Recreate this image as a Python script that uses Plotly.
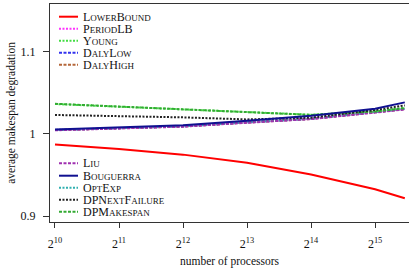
import math
import plotly.graph_objects as go

processors = [1024, 2048, 4096, 8192, 16384, 32768, 45208]

lower_bound = [0.9871, 0.9815, 0.9747, 0.9647, 0.9506, 0.9325, 0.9217]
period_lb = [1.0046, 1.0066, 1.0090, 1.0138, 1.0182, 1.0262, 1.0300]
young = [1.0362, 1.0330, 1.0295, 1.0258, 1.0232, 1.0275, 1.0315]
daly_low = [1.0047, 1.0067, 1.0091, 1.0140, 1.0184, 1.0265, 1.0304]
daly_high = [1.0045, 1.0065, 1.0089, 1.0137, 1.0181, 1.0262, 1.0301]
liu = [1.0043, 1.0063, 1.0087, 1.0135, 1.0179, 1.0258, 1.0296]
bouguerra = [1.0052, 1.0076, 1.0105, 1.0160, 1.0220, 1.0305, 1.0382]
opt_exp = [1.0046, 1.0066, 1.0090, 1.0139, 1.0183, 1.0264, 1.0303]
dp_next_failure = [1.0229, 1.0215, 1.0200, 1.0175, 1.0196, 1.0290, 1.0345]
dp_makespan = [1.0365, 1.0332, 1.0297, 1.0260, 1.0230, 1.0272, 1.0312]

x_tickvals = [1024, 2048, 4096, 8192, 16384, 32768]
x_ticktext = ["2<sup>10</sup>", "2<sup>11</sup>", "2<sup>12</sup>", "2<sup>13</sup>", "2<sup>14</sup>", "2<sup>15</sup>"]
y_tickvals = [0.9, 1.0, 1.1]
y_ticktext = ["0.9", "1", "1.1"]

legend1_names = ["LowerBound", "PeriodLB", "Young", "DalyLow", "DalyHigh"]
legend2_names = ["Liu", "Bouguerra", "OptExp", "DPNextFailure", "DPMakespan"]

DOT = "2px,1.5px"
DASH = "3px,1.5px"
styles = {
    "LowerBound": dict(color="#ff0000", dash="solid", width=2),
    "PeriodLB": dict(color="#ff33ff", dash=DOT, width=2),
    "Young": dict(color="#44dd44", dash=DOT, width=2),
    "DalyLow": dict(color="#3333ee", dash=DASH, width=2),
    "DalyHigh": dict(color="#b5673a", dash=DASH, width=2),
    "Liu": dict(color="#a030b0", dash=DASH, width=2),
    "Bouguerra": dict(color="#101090", dash="solid", width=2),
    "OptExp": dict(color="#30b0b0", dash=DOT, width=2),
    "DPNextFailure": dict(color="#222222", dash=DOT, width=2),
    "DPMakespan": dict(color="#33aa33", dash=DASH, width=2),
}

series = {
    "LowerBound": lower_bound,
    "PeriodLB": period_lb,
    "Young": young,
    "DalyLow": daly_low,
    "DalyHigh": daly_high,
    "Liu": liu,
    "Bouguerra": bouguerra,
    "OptExp": opt_exp,
    "DPNextFailure": dp_next_failure,
    "DPMakespan": dp_makespan,
}

FONT = "Liberation Serif"

fig = go.Figure()
draw_order = ["PeriodLB", "DalyLow", "DalyHigh", "OptExp", "Liu", "Young",
              "DPMakespan", "DPNextFailure", "Bouguerra", "LowerBound"]
for name in draw_order:
    st = styles[name]
    fig.add_trace(go.Scatter(
        x=processors, y=series[name], mode="lines", name=name,
        line=dict(color=st["color"], dash=st["dash"], width=st["width"]),
        showlegend=False,
    ))


def small_caps(s, small=9):
    out = []
    buf = ""
    for ch in s:
        if ch.islower():
            buf += ch.upper()
        else:
            if buf:
                out.append(f"<span style='font-size:{small}px'>{buf}</span>")
                buf = ""
            out.append(ch)
    if buf:
        out.append(f"<span style='font-size:{small}px'>{buf}</span>")
    return "".join(out)


W, H = 409, 274
ml, mr, mt, mb = 50, 0, 4, 52
pw, ph = W - ml - mr, H - mt - mb


def px2paper(px, py):
    return (px - ml) / pw, (H - mb - py) / ph


legend_rows = [(legend1_names, [16.7, 28.7, 40.7, 52.7, 64.7]),
               (legend2_names, [163.3, 175.7, 187.7, 199.7, 211.7])]
for names, ys in legend_rows:
    for name, py in zip(names, ys):
        st = styles[name]
        x0, y0 = px2paper(59, py)
        x1, _ = px2paper(78, py)
        fig.add_shape(type="line", xref="paper", yref="paper",
                      x0=x0, x1=x1, y0=y0, y1=y0,
                      line=dict(color=st["color"], dash=st["dash"], width=st["width"]))
        tx, ty = px2paper(82, py)
        fig.add_annotation(xref="paper", yref="paper", x=tx, y=ty,
                           xanchor="left", yanchor="middle", showarrow=False,
                           borderpad=0,
                           text=small_caps(name),
                           font=dict(family=FONT, size=12, color="#111111"))

lx = math.log10(2)
fig.update_layout(
    width=W, height=H,
    margin=dict(l=ml, r=mr, t=mt, b=mb, autoexpand=False),
    paper_bgcolor="white", plot_bgcolor="white",
    font=dict(family=FONT, size=11.5, color="#111111"),
    showlegend=False,
)
fig.update_xaxes(
    type="log", range=[9.922 * lx, 15.53 * lx], automargin=False,
    tickvals=x_tickvals, ticktext=x_ticktext,
    ticks="outside", ticklen=5, tickcolor="#333333", ticklabelstandoff=6,
    showline=True, linecolor="#333333", linewidth=1, mirror=True,
    showgrid=False, zeroline=False,
    tickfont=dict(family=FONT, size=12),
    title=dict(text="number of processors", font=dict(family=FONT, size=11.5), standoff=6),
)
fig.update_yaxes(
    range=[0.8928, 1.1578], automargin=False,
    tickvals=y_tickvals, ticktext=y_ticktext,
    ticks="outside", ticklen=6, tickcolor="#333333", ticklabelstandoff=5,
    showline=True, linecolor="#333333", linewidth=1, mirror=False,
    showgrid=False, zeroline=False,
    tickfont=dict(family=FONT, size=12),
    title=dict(text="average makespan degradation", font=dict(family=FONT, size=11.5), standoff=2),
)

fig.write_html("out.html", config={"displayModeBar": False},
               post_script="document.body.style.margin='0';")
